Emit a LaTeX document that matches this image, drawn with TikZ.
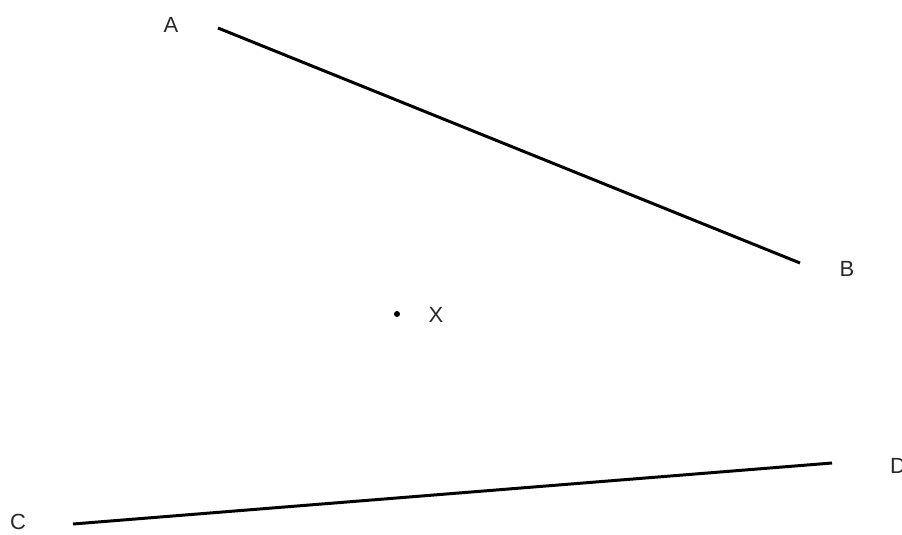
\documentclass[tikz,border=0pt]{standalone}
\usepackage{fontspec}
\setmainfont{Liberation Sans}
\usetikzlibrary{calc}
\begin{document}
\begin{tikzpicture}[x=0.02cm, y=-0.02cm]
% Styles
\tikzstyle{none} = []
\tikzstyle{label}=[font=\fontsize{12.5}{14}\selectfont, inner sep=0pt, text={rgb,255: red,40; green,40; blue,40}]
\tikzstyle{segment}=[-, draw=black, line width=1.7pt]
\tikzstyle{dot}=[fill=black, shape=circle, minimum size=0.12cm, inner sep=0cm]

\useasboundingbox (0, 0) rectangle (902, 534);

\node [style=none] (1) at (218, 28) {};
\node [style=none] (2) at (800, 263) {};
\node [style=none] (3) at (73, 524) {};
\node [style=none] (4) at (832, 463) {};
\node [style=dot] (5) at (397, 314) {};
\node [style=label] (6) at (171, 25) {A};
\node [style=label] (7) at (847, 269) {B};
\node [style=label] (8) at (18, 522) {C};
\node [style=label] (9) at (898, 466) {D};
\node [style=label] (10) at (436, 315) {X};

\draw [style=segment] (1.center) to (2.center);
\draw [style=segment] (3.center) to (4.center);
\end{tikzpicture}
\end{document}
